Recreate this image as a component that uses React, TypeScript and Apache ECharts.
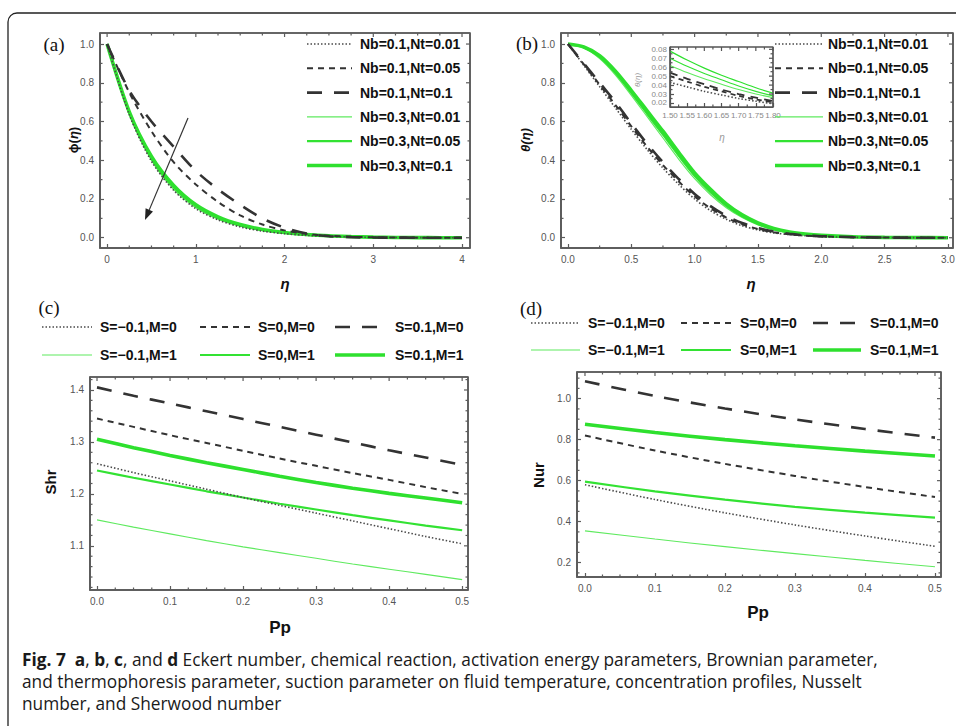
import React, { useEffect, useRef } from "react";
import * as echarts from "echarts";

// ---------- Panel (a): concentration profiles phi(eta) ----------
const etaA = [0, 0.25, 0.5, 0.75, 1, 1.25, 1.5, 1.75, 2, 2.25, 2.5, 2.75, 3, 3.25, 3.5, 3.75, 4];
const phiNb01Nt001 = [1, 0.635, 0.395, 0.245, 0.15, 0.092, 0.056, 0.034, 0.021, 0.012, 0.007, 0.004, 0.002, 0.001, 0.0005, 0.0002, 0];
const phiNb01Nt005 = [1, 0.75, 0.55, 0.39, 0.275, 0.185, 0.115, 0.068, 0.038, 0.02, 0.01, 0.005, 0.002, 0.001, 0.0005, 0.0002, 0];
const phiNb01Nt01 = [1, 0.76, 0.6, 0.47, 0.345, 0.25, 0.17, 0.1, 0.052, 0.022, 0.008, 0.003, 0.001, 0.0005, 0.0002, 0.0001, 0];
const phiNb03Nt001 = [1, 0.64, 0.4, 0.25, 0.155, 0.096, 0.06, 0.037, 0.023, 0.014, 0.008, 0.005, 0.003, 0.0015, 0.0007, 0.0003, 0];
const phiNb03Nt005 = [1, 0.645, 0.41, 0.26, 0.163, 0.102, 0.064, 0.04, 0.025, 0.015, 0.009, 0.005, 0.003, 0.0015, 0.0007, 0.0003, 0];
const phiNb03Nt01 = [1, 0.65, 0.42, 0.27, 0.17, 0.108, 0.068, 0.043, 0.027, 0.017, 0.01, 0.006, 0.003, 0.0015, 0.0007, 0.0003, 0];

// ---------- Panel (b): temperature profiles theta(eta) ----------
const etaB = [0, 0.125, 0.25, 0.375, 0.5, 0.625, 0.75, 0.875, 1, 1.125, 1.25, 1.375, 1.5, 1.625, 1.75, 1.875, 2, 2.25, 2.5, 2.75, 3];
const thNb01Nt001 = [1, 0.89, 0.78, 0.67, 0.56, 0.455, 0.36, 0.275, 0.2, 0.14, 0.095, 0.062, 0.04, 0.025, 0.016, 0.01, 0.006, 0.002, 0.001, 0.0003, 0];
const thNb01Nt005 = [1, 0.895, 0.79, 0.685, 0.575, 0.47, 0.375, 0.29, 0.213, 0.152, 0.104, 0.069, 0.045, 0.028, 0.018, 0.011, 0.007, 0.0025, 0.001, 0.0003, 0];
const thNb01Nt01 = [1, 0.9, 0.8, 0.7, 0.59, 0.485, 0.39, 0.303, 0.226, 0.163, 0.113, 0.076, 0.05, 0.032, 0.02, 0.012, 0.008, 0.003, 0.001, 0.0004, 0];
const thNb03Nt001 = [1, 0.98, 0.925, 0.84, 0.735, 0.625, 0.515, 0.405, 0.305, 0.222, 0.155, 0.104, 0.066, 0.041, 0.026, 0.016, 0.01, 0.004, 0.0015, 0.0005, 0];
const thNb03Nt005 = [1, 0.983, 0.932, 0.85, 0.748, 0.64, 0.532, 0.423, 0.32, 0.235, 0.165, 0.111, 0.071, 0.044, 0.028, 0.017, 0.011, 0.0045, 0.0017, 0.0006, 0];
const thNb03Nt01 = [1, 0.985, 0.94, 0.86, 0.76, 0.655, 0.55, 0.44, 0.335, 0.25, 0.175, 0.118, 0.077, 0.048, 0.03, 0.019, 0.012, 0.005, 0.002, 0.0007, 0];

// inset of (b)
const etaInset = [1.5, 1.55, 1.6, 1.65, 1.7, 1.75, 1.8];
const inNb01Nt001 = [0.043, 0.038, 0.033, 0.029, 0.025, 0.022, 0.019];
const inNb01Nt005 = [0.05, 0.044, 0.038, 0.033, 0.028, 0.024, 0.021];
const inNb01Nt01 = [0.054, 0.047, 0.041, 0.035, 0.03, 0.026, 0.022];
const inNb03Nt001 = [0.062, 0.054, 0.047, 0.041, 0.035, 0.03, 0.026];
const inNb03Nt005 = [0.07, 0.061, 0.053, 0.046, 0.039, 0.033, 0.028];
const inNb03Nt01 = [0.078, 0.068, 0.059, 0.051, 0.044, 0.037, 0.031];

// ---------- Panel (c): Sherwood number Shr vs Pp ----------
const ppC = [0, 0.05, 0.1, 0.15, 0.2, 0.25, 0.3, 0.35, 0.4, 0.45, 0.5];
const shrSm01M0 = [1.258, 1.241, 1.225, 1.209, 1.193, 1.178, 1.163, 1.148, 1.133, 1.118, 1.104];
const shrS0M0 = [1.345, 1.329, 1.313, 1.298, 1.283, 1.268, 1.254, 1.24, 1.227, 1.213, 1.2];
const shrS01M0 = [1.405, 1.389, 1.374, 1.359, 1.344, 1.329, 1.314, 1.299, 1.284, 1.27, 1.256];
const shrSm01M1 = [1.15, 1.136, 1.123, 1.11, 1.098, 1.087, 1.076, 1.065, 1.055, 1.045, 1.035];
const shrS0M1 = [1.245, 1.231, 1.218, 1.205, 1.193, 1.181, 1.17, 1.159, 1.149, 1.139, 1.13];
const shrS01M1 = [1.305, 1.289, 1.274, 1.26, 1.247, 1.234, 1.222, 1.211, 1.201, 1.192, 1.183];

// ---------- Panel (d): Nusselt number Nur vs Pp ----------
const ppD = [0, 0.1, 0.2, 0.3, 0.4, 0.5];
const nurSm01M0 = [0.58, 0.508, 0.443, 0.384, 0.33, 0.28];
const nurS0M0 = [0.82, 0.747, 0.682, 0.623, 0.569, 0.52];
const nurS01M0 = [1.085, 1.013, 0.952, 0.899, 0.852, 0.81];
const nurSm01M1 = [0.355, 0.315, 0.278, 0.244, 0.211, 0.18];
const nurS0M1 = [0.595, 0.548, 0.507, 0.472, 0.444, 0.42];
const nurS01M1 = [0.875, 0.835, 0.8, 0.77, 0.744, 0.72];

// ---------- labels / ticks ----------
const legendAB = ["Nb=0.1,Nt=0.01", "Nb=0.1,Nt=0.05", "Nb=0.1,Nt=0.1", "Nb=0.3,Nt=0.01", "Nb=0.3,Nt=0.05", "Nb=0.3,Nt=0.1"];
const legendCD = ["S=\u22120.1,M=0", "S=0,M=0", "S=0.1,M=0", "S=\u22120.1,M=1", "S=0,M=1", "S=0.1,M=1"];
const ticksAX = [0, 1, 2, 3, 4];
const ticksABY = [0, 0.2, 0.4, 0.6, 0.8, 1.0];
const ticksBX = [0, 0.5, 1, 1.5, 2, 2.5, 3];
const ticksCDX = [0, 0.1, 0.2, 0.3, 0.4, 0.5];
const ticksCY = [1.1, 1.2, 1.3, 1.4];
const ticksDY = [0.2, 0.4, 0.6, 0.8, 1.0];
const ticksInX = [1.5, 1.55, 1.6, 1.65, 1.7, 1.75, 1.8];
const ticksInY = [0.02, 0.03, 0.04, 0.05, 0.06, 0.07, 0.08];
const captionLines = [
  "{b|Fig. 7}  {b|a}, {b|b}, {b|c}, and {b|d} Eckert number, chemical reaction, activation energy parameters, Brownian parameter,",
  "and thermophoresis parameter, suction parameter on fluid temperature, concentration profiles, Nusselt",
  "number, and Sherwood number",
];

const SANS = '"Liberation Sans", Arial, sans-serif';
const SERIF = '"Liberation Serif", "Times New Roman", serif';
const CAP = '"Open Sans", sans-serif';
const AXC = "#5c5c5c";

const STY = [
  { color: "#4a4a4a", width: 1.6, type: [1.5, 2] },
  { color: "#333333", width: 2, type: [6, 5] },
  { color: "#333333", width: 2.6, type: [15, 12] },
  { color: "#5fea5f", width: 1.1, type: "solid" },
  { color: "#33e233", width: 2.2, type: "solid" },
  { color: "#2ee02e", width: 3.6, type: "solid" },
];

// plot boxes (layout)
const BOX = [
  { l: 100, t: 33, w: 370, h: 215 },
  { l: 561, t: 33, w: 392, h: 215 },
  { l: 90, t: 377, w: 378, h: 213 },
  { l: 577, t: 372, w: 364, h: 205 },
  { l: 670, t: 47, w: 103, h: 60 },
];

function steps(a: number, b: number, s: number): number[] {
  const out: number[] = [];
  const n = Math.round((b - a) / s);
  for (let i = 0; i <= n; i++) out.push(Math.round((a + i * s) * 100000) / 100000);
  return out;
}

type Spec = { min: number; max: number; major: number[]; minor: number[]; fmt: (v: number) => string };

function axisPair(grid: number, xs: Spec, ys: Spec, lab: any, col: string, lw: number) {
  const mk = (s: Spec, pos: string) => ({
    type: "value",
    gridIndex: grid,
    min: s.min,
    max: s.max,
    position: pos,
    splitLine: { show: false },
    axisLine: { show: true, onZero: false, lineStyle: { color: col, width: lw } },
    axisTick: { show: true, inside: true, length: 4, customValues: s.major, lineStyle: { color: col, width: 1.2 } },
    axisLabel: lab ? { show: true, customValues: s.major, formatter: (v: number) => s.fmt(v), ...lab } : { show: false },
  });
  return { x: mk(xs, "bottom"), y: mk(ys, "left") };
}

function lineSeries(name: string, xi: number, yi: number, xs: number[], ys: number[], k: number, z = 3) {
  const st = STY[k];
  return {
    type: "line",
    name,
    xAxisIndex: xi,
    yAxisIndex: yi,
    data: xs.map((x, i) => [x, ys[i]]),
    symbol: "none",
    showSymbol: false,
    smooth: 0.3,
    z: k < 3 ? z + 1 : z,
    lineStyle: { color: st.color, width: st.width, type: st.type },
  };
}

function legendItem(x1: number, x2: number, y: number, k: number, text: string, tx: number, size = 14) {
  const st = STY[k];
  return [
    {
      type: "line",
      shape: { x1, y1: y, x2, y2: y },
      style: { stroke: st.color, lineWidth: st.width, lineDash: Array.isArray(st.type) ? st.type : null },
      z: 10,
    },
    {
      type: "text",
      x: tx,
      y,
      style: { text, fill: "#111", fontSize: size, fontWeight: "bold", fontFamily: SANS, verticalAlign: "middle", textVerticalAlign: "middle" },
      z: 10,
    },
  ];
}

function txt(x: number, y: number, text: string, opts: any = {}, rotation = 0) {
  return {
    type: "text",
    x,
    y,
    rotation,
    z: 10,
    style: {
      text,
      fill: "#111",
      fontFamily: SANS,
      align: "center",
      textAlign: "center",
      verticalAlign: "middle",
      textVerticalAlign: "middle",
      ...opts,
    },
  };
}

export default function App() {
  const ref = useRef<HTMLDivElement>(null);
  useEffect(() => {
    if (!ref.current) return;
    const chart = echarts.init(ref.current, null, { renderer: "svg" });
    const lab = { color: "#555", fontSize: 10, fontFamily: SANS, margin: 6 };
    const f0 = (v: number) => String(Math.round(v));
    const f1 = (v: number) => v.toFixed(1);
    const f2 = (v: number) => v.toFixed(2);

    const specs: [Spec, Spec, any][] = [
      [
        { min: -0.08, max: 4.09, major: ticksAX, minor: steps(0, 4, 0.25), fmt: f0 },
        { min: -0.053, max: 1.057, major: ticksABY, minor: steps(0, 1, 0.1), fmt: f1 }, lab,
      ],
      [
        { min: -0.055, max: 3.04, major: ticksBX, minor: steps(0, 3, 0.25), fmt: f1 },
        { min: -0.053, max: 1.057, major: ticksABY, minor: steps(0, 1, 0.1), fmt: f1 }, lab,
      ],
      [
        { min: -0.0096, max: 0.508, major: ticksCDX, minor: steps(0, 0.5, 0.025), fmt: f1 },
        { min: 1.015, max: 1.425, major: ticksCY, minor: steps(1.02, 1.42, 0.02), fmt: f1 }, lab,
      ],
      [
        { min: -0.0114, max: 0.5086, major: ticksCDX, minor: steps(0, 0.5, 0.025), fmt: f1 },
        { min: 0.13, max: 1.13, major: ticksDY, minor: steps(0.15, 1.1, 0.05), fmt: f1 }, lab,
      ],
      [
        { min: 1.5, max: 1.8, major: ticksInX, minor: steps(1.5, 1.8, 0.025), fmt: f2 },
        { min: 0.0155, max: 0.0826, major: ticksInY, minor: steps(0.02, 0.08, 0.005), fmt: f2 }, null,
      ],
    ];
    const xAxes: any[] = [];
    const yAxes: any[] = [];
    specs.forEach((s, g) => {
      const p = axisPair(g, s[0], s[1], s[2], g === 4 ? "#555" : AXC, g === 4 ? 1.2 : 1.6);
      xAxes.push(p.x);
      yAxes.push(p.y);
    });

    const dataA = [phiNb01Nt001, phiNb01Nt005, phiNb01Nt01, phiNb03Nt001, phiNb03Nt005, phiNb03Nt01];
    const dataB = [thNb01Nt001, thNb01Nt005, thNb01Nt01, thNb03Nt001, thNb03Nt005, thNb03Nt01];
    const dataI = [inNb01Nt001, inNb01Nt005, inNb01Nt01, inNb03Nt001, inNb03Nt005, inNb03Nt01];
    const dataC = [shrSm01M0, shrS0M0, shrS01M0, shrSm01M1, shrS0M1, shrS01M1];
    const dataD = [nurSm01M0, nurS0M0, nurS01M0, nurSm01M1, nurS0M1, nurS01M1];

    const series: any[] = [];
    const order = [3, 4, 5, 0, 1, 2];
    order.forEach((k) => series.push(lineSeries("a " + legendAB[k], 0, 0, etaA, dataA[k], k)));
    order.forEach((k) => series.push(lineSeries("b " + legendAB[k], 1, 1, etaB, dataB[k], k)));
    order.forEach((k) => {
      const s = lineSeries("inset " + legendAB[k], 4, 4, etaInset, dataI[k], k, 6);
      s.lineStyle.width = Math.min(s.lineStyle.width, k < 3 ? 1.8 : 1.2);
      if (k === 2) s.lineStyle.type = [8, 6] as any;
      if (k === 1) s.lineStyle.type = [5, 4] as any;
      series.push(s);
    });
    order.forEach((k) => series.push(lineSeries("c " + legendCD[k], 2, 2, ppC, dataC[k], k)));
    order.forEach((k) => series.push(lineSeries("d " + legendCD[k], 3, 3, ppD, dataD[k], k)));

    chart.setOption({
      animation: false,
      backgroundColor: "#ffffff",
      grid: BOX.map((b, g) => ({
        left: b.l, top: b.t, width: b.w, height: b.h, outerBoundsMode: "none",
        show: true, borderColor: g === 4 ? "#555" : AXC, borderWidth: g === 4 ? 1.2 : 1.6, backgroundColor: "#fff",
      })),
      xAxis: xAxes,
      yAxis: yAxes,
      series,
    });

    const graphics: any[] = [];
    graphics.push({
      type: "rect",
      shape: { x: 8, y: 13, width: 1100, height: 900, r: 9 },
      style: { fill: "none", stroke: "#222", lineWidth: 1.3 },
      z: 1,
    });

    // frame edges and mirrored/minor ticks, positioned through the axes' scales
    BOX.forEach((b, g) => {
      const col = g === 4 ? "#555" : AXC;
      const lw = g === 4 ? 1.2 : 1.6;
      const bottom = b.t + b.h, right = b.l + b.w;
      const edge = (x1: number, y1: number, x2: number, y2: number) =>
        graphics.push({ type: "line", shape: { x1, y1, x2, y2 }, style: { stroke: col, lineWidth: lw }, z: 10 });
      edge(b.l, b.t, right, b.t);
      edge(right, b.t, right, bottom);
      edge(b.l, bottom, right, bottom);
      edge(b.l, b.t, b.l, bottom);
      const [xs, ys] = specs[g];
      const add = (x1: number, y1: number, x2: number, y2: number) =>
        graphics.push({ type: "line", shape: { x1, y1, x2, y2 }, style: { stroke: col, lineWidth: 1.2 }, z: 10 });
      const xMajSet = new Set(xs.major.map((v) => v.toFixed(4)));
      const yMajSet = new Set(ys.major.map((v) => v.toFixed(4)));
      const px = (v: number) => {
        const r = chart.convertToPixel({ xAxisIndex: g }, v) as any;
        return Number(Array.isArray(r) ? r[0] : r);
      };
      const py = (v: number) => {
        const r = chart.convertToPixel({ yAxisIndex: g }, v) as any;
        return Number(Array.isArray(r) ? r[1] : r);
      };
      xs.major.forEach((v) => {
        const p = px(v);
        if (isFinite(p)) { add(p, b.t, p, b.t + 4); }
      });
      xs.minor.filter((v) => !xMajSet.has(v.toFixed(4))).forEach((v) => {
        const p = px(v);
        if (isFinite(p)) { add(p, bottom, p, bottom - 2.5); add(p, b.t, p, b.t + 2.5); }
      });
      ys.major.forEach((v) => {
        const p = py(v);
        if (isFinite(p)) { add(right, p, right - 4, p); }
      });
      ys.minor.filter((v) => !yMajSet.has(v.toFixed(4))).forEach((v) => {
        const p = py(v);
        if (isFinite(p)) { add(b.l, p, b.l + 2.5, p); add(right, p, right - 2.5, p); }
      });
      if (g === 4) {
        // inset tick labels (crowded like the original), placed through the scales
        xs.major.forEach((v) => {
          const p = px(v);
          if (isFinite(p)) graphics.push(txt(p, bottom + 8, xs.fmt(v), { fontSize: 8, fill: "#888" }));
        });
        ys.major.forEach((v) => {
          const p = py(v);
          if (isFinite(p)) graphics.push(txt(b.l - 3, p, ys.fmt(v), { fontSize: 8, fill: "#888", align: "right", textAlign: "right" }));
        });
      }
    });

    // panel letters
    graphics.push(txt(54, 44, "(a)", { fontFamily: SERIF, fontSize: 19 }));
    graphics.push(txt(527, 43, "(b)", { fontFamily: SERIF, fontSize: 19 }));
    graphics.push(txt(49, 307, "(c)", { fontFamily: SERIF, fontSize: 19 }));
    graphics.push(txt(531, 308, "(d)", { fontFamily: SERIF, fontSize: 19 }));
    // axis titles
    const rich = { i: { fontStyle: "italic", fontWeight: "bold", fontSize: 13, fontFamily: SANS, fill: "#111" } };
    graphics.push(txt(73, 140, "\u03d5({i|\u03b7})", { fontSize: 13, fontWeight: "bold", rich }, Math.PI / 2));
    graphics.push(txt(525, 140, "\u03b8({i|\u03b7})", { fontSize: 13, fontWeight: "bold", fontStyle: "italic", rich }, Math.PI / 2));
    graphics.push(txt(285, 283, "\u03b7", { fontSize: 15, fontWeight: "bold", fontStyle: "italic" }));
    graphics.push(txt(751, 283, "\u03b7", { fontSize: 15, fontWeight: "bold", fontStyle: "italic" }));
    graphics.push(txt(50, 482, "Shr", { fontSize: 15, fontWeight: "bold" }, Math.PI / 2));
    graphics.push(txt(538, 475, "Nur", { fontSize: 15, fontWeight: "bold" }, Math.PI / 2));
    graphics.push(txt(280, 627, "Pp", { fontSize: 17, fontWeight: "bold" }));
    graphics.push(txt(758, 612, "Pp", { fontSize: 17, fontWeight: "bold" }));
    // inset titles
    graphics.push(txt(637, 80, "\u03b8(\u03b7)", { fontSize: 8, fill: "#999", fontStyle: "italic" }, Math.PI / 2));
    graphics.push(txt(722, 137, "\u03b7", { fontSize: 10, fill: "#999", fontStyle: "italic" }));
    // legends (a) and (b)
    for (let i = 0; i < 6; i++) {
      const y = 44 + i * 24.3;
      graphics.push(...legendItem(307, 352, y, i, legendAB[i], 360));
      graphics.push(...legendItem(775, 823, y, i, legendAB[i], 828));
    }
    // legends (c) and (d)
    const colsC = [[42, 92, 100], [200, 250, 258], [335, 385, 395]];
    const colsD = [[531, 580, 588], [681, 731, 740], [813, 861, 870]];
    for (let r = 0; r < 2; r++) {
      for (let c = 0; c < 3; c++) {
        const k = r * 3 + c;
        graphics.push(...legendItem(colsC[c][0], colsC[c][1], 327 + r * 28, k, legendCD[k], colsC[c][2]));
        graphics.push(...legendItem(colsD[c][0], colsD[c][1], 323 + r * 27, k, legendCD[k], colsD[c][2]));
      }
    }
    // arrow in (a)
    const ax1 = 188, ay1 = 118, ax2 = 145, ay2 = 220;
    const dx = ax2 - ax1, dy = ay2 - ay1, L = Math.hypot(dx, dy);
    const ux = dx / L, uy = dy / L, hl = 11, hw = 4;
    const bx = ax2 - hl * ux, by = ay2 - hl * uy;
    graphics.push({ type: "line", shape: { x1: ax1, y1: ay1, x2: bx, y2: by }, style: { stroke: "#333", lineWidth: 1.2 }, z: 12 });
    graphics.push({
      type: "polygon",
      shape: { points: [[ax2, ay2], [bx - hw * uy, by + hw * ux], [bx + hw * uy, by - hw * ux]] },
      style: { fill: "#222" },
      z: 12,
    });
    // caption
    captionLines.forEach((t, i) => {
      graphics.push({
        type: "text",
        x: 22,
        y: 659 + i * 22,
        z: 10,
        style: {
          text: t,
          fill: "#1a1a1a",
          fontSize: 17.3,
          fontFamily: CAP,
          verticalAlign: "middle",
          textVerticalAlign: "middle",
          rich: { b: { fontWeight: "bold", fontSize: 17.3, fontFamily: CAP, fill: "#1a1a1a" } },
        },
      });
    });

    chart.setOption({ graphic: graphics });
    return () => chart.dispose();
  }, []);
  return <div ref={ref} style={{ position: "absolute", left: 0, top: 0, width: 956, height: 726 }} />;
}
